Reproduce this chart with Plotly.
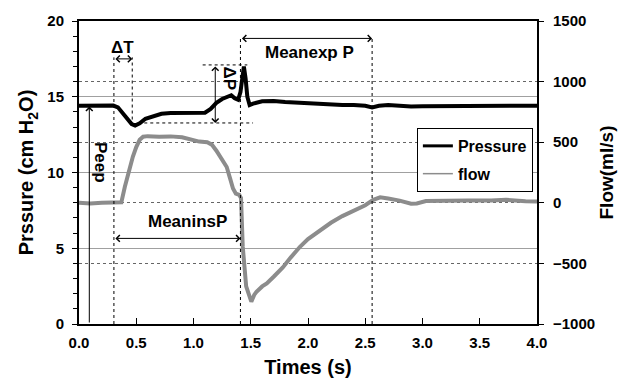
import plotly.graph_objects as go

# ---- data ----
t_pressure = [0, 0.1, 0.2, 0.3, 0.34, 0.38, 0.42, 0.46, 0.49, 0.53, 0.58, 0.65, 0.72, 0.8,
              0.9, 1.0, 1.05, 1.1, 1.15, 1.2, 1.25, 1.3, 1.33, 1.36, 1.39, 1.41, 1.425, 1.44,
              1.455, 1.47, 1.49, 1.52, 1.6, 1.7, 1.8, 1.9, 2.0, 2.1, 2.2, 2.3, 2.4, 2.5, 2.56,
              2.62, 2.7, 2.8, 2.9, 3.0, 3.2, 3.4, 3.6, 3.8, 4.0]
pressure = [14.4, 14.4, 14.42, 14.42, 14.3, 13.95, 13.5, 13.2, 13.1, 13.25, 13.55, 13.75,
            13.88, 13.92, 13.93, 13.88, 13.92, 13.95, 14.2, 14.6, 14.85, 15.05, 15.1, 14.9,
            14.8, 15.3, 16.3, 17.0, 16.2, 15.0, 14.45, 14.55, 14.7, 14.72, 14.65, 14.6, 14.55,
            14.5, 14.5, 14.45, 14.45, 14.4, 14.3, 14.4, 14.45, 14.4, 14.35, 14.38, 14.4, 14.4,
            14.42, 14.4, 14.4]

t_flow = [0, 0.1, 0.2, 0.3, 0.37, 0.4, 0.44, 0.47, 0.5, 0.53, 0.56, 0.6, 0.7, 0.8, 0.9, 1.0,
          1.05, 1.12, 1.16, 1.2, 1.25, 1.29, 1.32, 1.345, 1.37, 1.4, 1.415, 1.43, 1.46, 1.49,
          1.505, 1.53, 1.55, 1.6, 1.64, 1.7, 1.78, 1.85, 1.93, 2.0, 2.1, 2.2, 2.3, 2.4, 2.5,
          2.57, 2.63, 2.7, 2.8, 2.9, 2.95, 3.03, 3.2, 3.4, 3.6, 3.73, 3.9, 4.0]
flow = [0, -5, 0, 0, 5, 130, 280, 380, 460, 520, 545, 550, 545, 548, 540, 520, 505, 500, 480,
        430, 360, 295, 200, 118, 75, 65, 40, -360, -690, -790, -816, -760, -735, -690, -665,
        -610, -533, -450, -363, -300, -230, -165, -110, -65, -20, 25, 45, 35, 18, -8, -5, 15,
        20, 18, 18, 25, 12, 10]

x_ticks = [0, 0.5, 1.0, 1.5, 2.0, 2.5, 3.0, 3.5, 4.0]
y_ticks = [0, 5, 10, 15, 20]
y2_ticks = [-1000, -500, 0, 500, 1000, 1500]

FONT = "Liberation Sans"
FLOW_COLOR = "#8c8c8c"

fig = go.Figure()
fig.add_trace(go.Scatter(x=t_pressure, y=pressure, name="Pressure", mode="lines",
                         line=dict(color="black", width=4), yaxis="y", showlegend=False))
fig.add_trace(go.Scatter(x=t_flow, y=flow, name="flow", mode="lines",
                         line=dict(color=FLOW_COLOR, width=4), yaxis="y2", showlegend=False))
# legend entries (thinner sample lines, as in the reference legend)
fig.add_trace(go.Scatter(x=[None], y=[None], name="Pressure", mode="lines", legendgroup="p",
                         line=dict(color="black", width=3)))
fig.add_trace(go.Scatter(x=[None], y=[None], name="flow", mode="lines", legendgroup="f",
                         line=dict(color=FLOW_COLOR, width=1.5)))

dot = dict(color="black", width=1, dash="dot")
shapes = [
    dict(type="line", xref="x", yref="y", x0=0.305, x1=0.305, y0=0, y1=17.6, line=dot),
    dict(type="line", xref="x", yref="y", x0=0.465, x1=0.465, y0=13.1, y1=17.6, line=dot),
    dict(type="line", xref="x", yref="y", x0=1.08, x1=1.47, y0=17.1, y1=17.1, line=dot),
    dict(type="line", xref="x", yref="y", x0=0.57, x1=1.52, y0=13.27, y1=13.27, line=dot),
    dict(type="line", xref="x", yref="y", x0=1.41, x1=1.41, y0=0, y1=18.85, line=dot),
    dict(type="line", xref="x", yref="y", x0=2.56, x1=2.56, y0=0, y1=18.85, line=dot),
]

def arrow(x, y, ax, ay, both=True):
    return dict(x=x, y=y, ax=ax, ay=ay, xref="x", yref="y", axref="x", ayref="y",
                text="", showarrow=True, arrowhead=4, startarrowhead=4, arrowsize=1.3,
                startarrowsize=1.3,
                arrowwidth=1, arrowcolor="black", arrowside="end+start" if both else "end")

tf = dict(family=FONT, size=17, color="black", weight="bold")
annotations = [
    arrow(0.09, 14.35, 0.09, 0.0, both=False),
    arrow(0.465, 17.5, 0.305, 17.5),
    arrow(1.19, 13.27, 1.19, 17.1),
    arrow(2.56, 18.85, 1.41, 18.85),
    arrow(1.41, 5.65, 0.305, 5.65),
    dict(x=0.19, y=10.65, xref="x", yref="y", text="Peep", showarrow=False, textangle=90, font=tf),
    dict(x=0.38, y=18.25, xref="x", yref="y", text="ΔT", showarrow=False, font=tf),
    dict(x=1.31, y=16.2, xref="x", yref="y", text="ΔP", showarrow=False, textangle=90, font=tf),
    dict(x=2.015, y=17.95, xref="x", yref="y", text="Meanexp P", showarrow=False, font=tf),
    dict(x=0.95, y=6.74, xref="x", yref="y", text="MeaninsP", showarrow=False, font=tf),
]

tickfont = dict(family=FONT, size=15, color="black", weight="bold")
titlefont = dict(family=FONT, size=20, color="black", weight="bold")

# the page places the figure 8 px from the window's top-left corner
fig.update_layout(
    width=620, height=370,
    margin=dict(l=71, r=91, t=13, b=54, autoexpand=False),
    paper_bgcolor="white", plot_bgcolor="white",
    font=dict(family=FONT, color="black", weight="bold"),
    shapes=shapes, annotations=annotations,
    xaxis=dict(range=[0, 4], tickvals=x_ticks, tickformat=".1f", ticks="inside", ticklen=6,
               tickcolor="black", showline=True, linecolor="black", linewidth=2, mirror=True,
               showgrid=False, zeroline=False, tickfont=tickfont, automargin=False,
               title=dict(text="Times (s)", font=titlefont, standoff=10),
               ticklabelstandoff=4),
    yaxis=dict(range=[0, 20], tickvals=y_ticks, ticks="outside", ticklen=5, tickcolor="black",
               minor=dict(dtick=1, ticks="outside", ticklen=4, tickcolor="black", showgrid=False),
               showline=True, linecolor="black", linewidth=2, showgrid=True, automargin=False,
               gridcolor="#a0a0a0", gridwidth=1, zeroline=False, tickfont=tickfont,
               ticklabelstandoff=5,
               title=dict(text="Prssure (cm H<sub>2</sub>O)", font=titlefont, standoff=8)),
    yaxis3=dict(range=[0, 20], overlaying="y", side="left", anchor="x", tickvals=y_ticks,
                ticks="inside", ticklen=5, tickcolor="black", showticklabels=False,
                minor=dict(dtick=1, ticks="inside", ticklen=4, tickcolor="black", showgrid=False),
                showgrid=False, zeroline=False, showline=False, automargin=False),
    yaxis2=dict(range=[-1000, 1500], tickvals=y2_ticks, overlaying="y", side="right",
                ticks="outside", ticklen=5, tickcolor="black", showline=True, linecolor="black",
                linewidth=2, showgrid=True, gridcolor="#666666", griddash="dot", gridwidth=1,
                zeroline=False, tickfont=tickfont, ticklabelstandoff=6, automargin=False,
                title=dict(text="Flow(ml/s)", font=dict(family=FONT, size=19, color="black",
                                                         weight="bold"), standoff=6)),
    legend=dict(x=0.991, y=0.647, xanchor="right", yanchor="top", bgcolor="white",
                bordercolor="black", borderwidth=1, tracegroupgap=4,
                font=dict(family=FONT, size=16, color="black", weight="bold"),
                itemwidth=30),
    showlegend=True,
)

fig.write_html("out.html")
